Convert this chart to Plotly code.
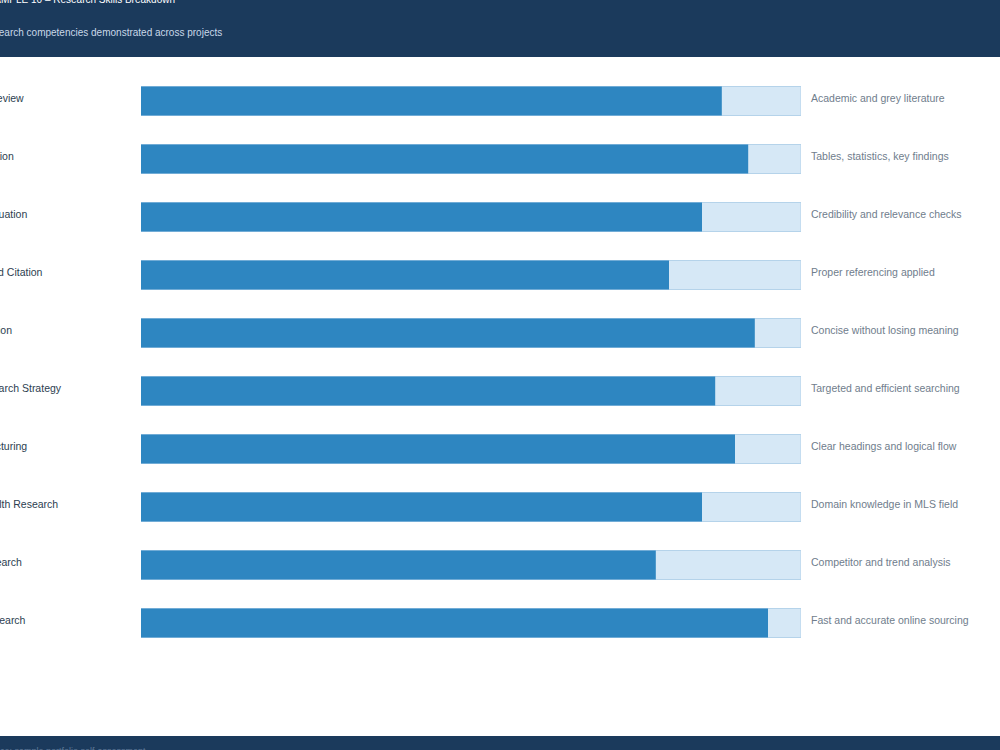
import plotly.graph_objects as go

skills = [
    "Literature Review",
    "Data Extraction",
    "Source Evaluation",
    "Sourcing and Citation",
    "Summarisation",
    "Keyword Search Strategy",
    "Report Structuring",
    "Applied Health Research",
    "Market Research",
    "Internet Research",
]
scores = [88, 92, 85, 80, 93, 87, 90, 85, 78, 95]
notes = [
    "Academic and grey literature",
    "Tables, statistics, key findings",
    "Credibility and relevance checks",
    "Proper referencing applied",
    "Concise without losing meaning",
    "Targeted and efficient searching",
    "Clear headings and logical flow",
    "Domain knowledge in MLS field",
    "Competitor and trend analysis",
    "Fast and accurate online sourcing",
]
max_score = [100] * len(skills)

title_text = "EXAMPLE 10 – Research Skills Breakdown"
subtitle_text = "Research competencies demonstrated across projects"
footer_text = "Source: sample portfolio self-assessment"

NAVY = "#1b3a5c"
FONT = "Liberation Sans, Arial, sans-serif"

# plot area in pixels: left 141, right 801, top 72, bottom 652
T, B = 72, 652
H = B - T


def py(pix):
    return (B - pix) / H


def px(pix):
    return (pix - 141) / 660


fig = go.Figure()
fig.add_trace(go.Bar(
    x=max_score, y=skills, orientation="h", width=0.5,
    marker=dict(color="#d6e8f6", line=dict(color="#b5d3ea", width=1)),
    hoverinfo="skip", showlegend=False,
))
fig.add_trace(go.Bar(
    x=scores, y=skills, orientation="h", width=0.5,
    marker=dict(color="#2e86c1", line=dict(width=0)),
    showlegend=False,
))

# header and footer bands
fig.add_shape(type="rect", xref="paper", yref="paper", x0=-1, x1=2,
              y0=py(57), y1=py(-10),
              fillcolor=NAVY, line=dict(width=0), layer="below")
fig.add_shape(type="rect", xref="paper", yref="paper", x0=-1, x1=2,
              y0=py(770), y1=py(736),
              fillcolor=NAVY, line=dict(width=0), layer="below")

ann = []
for s, n in zip(skills, notes):
    ann.append(dict(x=px(-60), xref="paper", y=s, yref="y", text=s, yshift=3,
                    xanchor="left", yanchor="middle", showarrow=False,
                    font=dict(size=10.5, color="#2c3e50", family=FONT)))
    ann.append(dict(x=100, xref="x", y=s, yref="y", text=n, xshift=8, yshift=3,
                    xanchor="left", yanchor="middle", showarrow=False,
                    font=dict(size=10.5, color="#6f7d8c", family=FONT)))

ann.append(dict(x=px(-21), xref="paper", y=py(-1), yref="paper",
                text=title_text, xanchor="left", yanchor="middle", showarrow=False,
                font=dict(size=10, color="#ffffff", family=FONT)))
ann.append(dict(x=px(-21), xref="paper", y=py(32), yref="paper",
                text=subtitle_text, xanchor="left", yanchor="middle", showarrow=False,
                font=dict(size=10, color="#c9d8e8", family=FONT)))
ann.append(dict(x=px(-21), xref="paper", y=py(751), yref="paper",
                text=footer_text, xanchor="left", yanchor="middle", showarrow=False,
                font=dict(size=9, color="#5d7896", family=FONT)))

fig.update_layout(
    width=1000, height=750,
    margin=dict(l=141, r=199, t=T, b=750 - B),
    paper_bgcolor="#ffffff", plot_bgcolor="#ffffff",
    barmode="overlay",
    xaxis=dict(range=[0, 100], visible=False, fixedrange=True),
    yaxis=dict(visible=False, categoryorder="array",
               categoryarray=skills, range=[9.5, -0.5]),
    annotations=ann,
    font=dict(family=FONT),
)

fig.write_html("out.html")
